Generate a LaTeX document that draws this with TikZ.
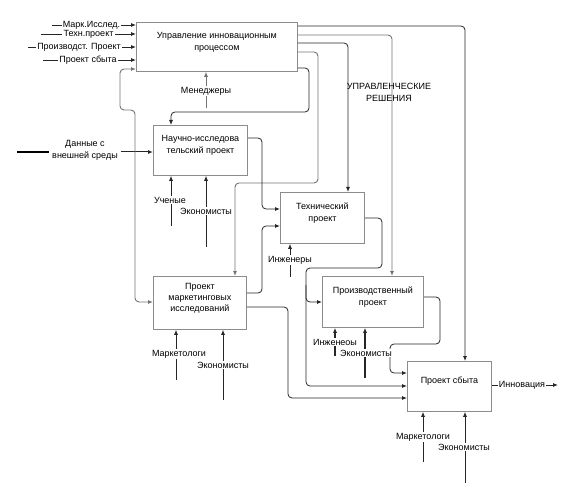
\documentclass[tikz,border=0pt]{standalone}
\usepackage{fontspec}
\setmainfont{Liberation Sans}
\usetikzlibrary{arrows.meta}
\begin{document}
\begin{tikzpicture}[x=1pt,y=-1pt,
  font=\fontsize{9}{12}\selectfont,
  box/.style={draw=black!45,line width=0.8pt,fill=white,inner sep=0pt,anchor=north west},
  txt/.style={align=center,inner sep=0pt},
  lbl/.style={fill=white,inner sep=1.2pt,align=center},
  ln/.style={draw=black!85,line width=0.8pt,rounded corners=4pt},
  gln/.style={draw=black!55,line width=0.9pt,rounded corners=4pt},
  arr/.style={-{Latex[length=5pt,width=4pt]}},
]
\useasboundingbox (0,0) rectangle (575,494);
% boxes
\node[box,minimum width=161pt,minimum height=49pt] (U) at (136,22) {};
\node[box,minimum width=94pt,minimum height=50pt] (N) at (153,125) {};
\node[box,minimum width=84pt,minimum height=51pt] (T) at (280,192) {};
\node[box,minimum width=93pt,minimum height=53pt] (M) at (153,276) {};
\node[box,minimum width=101pt,minimum height=51pt] (P) at (322,276) {};
\node[box,minimum width=84pt,minimum height=50pt] (S) at (407,361) {};
\node[txt] (Ut) at ([yshift=5pt]U.center) {Управление инновационным\\процессом};
\node[txt] (Nt) at ([yshift=5pt]N.center) {Научно-исследова\\тельский проект};
\node[txt] (Tt) at ([yshift=5pt]T.center) {Технический\\проект};
\node[txt,font=\fontsize{9}{11}\selectfont] (Mt) at ([yshift=5pt]M.center) {Проект\\маркетинговых\\исследований};
\node[txt] (Pt) at ([yshift=5pt]P.center) {Производственный\\проект};
\node[txt] (St) at ([yshift=5pt]S.center) {Проект сбыта};

% inputs to U
\draw[ln,arr] (52,25) -- (U.west |- 0,25);
\node[lbl] (i1) at (91.5,25) {Марк.Исслед.};
\draw[ln,arr] (41,34) -- (U.west |- 0,34);
\node[lbl] (i2) at (88.5,34) {Техн.проект};
\draw[ln,arr] (28,47) -- (U.west |- 0,47);
\node[lbl] (i3) at (79,47) {Производст. Проект};
\draw[ln,arr] (43,60) -- (U.west |- 0,60);
\node[lbl] (i4) at (88,60) {Проект сбыта};

% external data
\draw[draw=black,line width=1.3pt] (17,152) -- (60,152);
\draw[ln,arr,line width=1pt] (60,152) -- (N.west |- 0,152);
\node[lbl,inner sep=3pt] (ext) at (85,150) {Данные с\\внешней среды};

% loop U <-> M on left
\draw[gln,{Latex[length=5pt,width=4pt]}-{Latex[length=5pt,width=4pt]}] (U.west |- 0,69) -- (120,69) -- (120,110) -- (135,110) -- (135,302) -- (M.west |- 0,302);

% control lines from U
\draw[ln,arr] (U.east |- 0,26) -- (465,26) -- (465,200) -- (S.north -| 465,0);
\draw[gln,arr] (U.east |- 0,35) -- (392,35) -- (392,200) -- (P.north -| 392,0);
\draw[ln,arr] (U.east |- 0,43) -- (348,43) -- (348,150) -- (T.north -| 348,0);
\draw[gln,arr] (U.east |- 0,52) -- (318,52) -- (318,183) -- (235,183) -- (M.north -| 235,0);
\draw[ln,arr] (U.east |- 0,68) -- (309,68) -- (309,112) -- (171,112) -- (N.north -| 171,0);
\node[txt] (dec) at (389,92.5) {УПРАВЛЕНЧЕСКИЕ\\РЕШЕНИЯ};

% N -> T, M -> T
\draw[ln,arr] (N.east |- 0,138) -- (262,138) -- (262,209) -- (T.west |- 0,209);
\draw[ln,arr] (M.east |- 0,293) -- (262,293) -- (262,226) -- (T.west |- 0,226);
% M -> S
\draw[ln,arr] (M.east |- 0,307) -- (288,307) -- (288,398) -- (S.west |- 0,398);
% T -> P and S
\draw[ln,arr] (T.east |- 0,218) -- (382,218) -- (382,268) -- (306,268) -- (306,386) -- (S.west |- 0,386);
\draw[ln,arr] (306,285) -- (306,302) -- (P.west |- 0,302);
% P -> S
\draw[ln,arr] (P.east |- 0,297) -- (440,297) -- (440,344) -- (390,344) -- (390,373) -- (S.west |- 0,373);
% output
\draw[ln,arr] (S.east |- 0,385) -- (558,385);
\node[lbl] (out) at (522,385) {Инновация};

% mechanisms
\draw[gln,arr] (206,108) -- (U.south -| 206,0);
\node[lbl] (m1) at (206,91) {Менеджеры};
\draw[ln,arr] (171,226) -- (N.south -| 171,0);
\node[lbl] (m2) at (170,200) {Ученые};
\draw[ln,arr] (206,247) -- (N.south -| 206,0);
\node[lbl] (m3) at (206,211) {Экономисты};
\draw[ln,arr] (290,277) -- (T.south -| 290,0);
\node[lbl] (m4) at (290,260) {Инженеры};
\draw[ln,arr] (176,380) -- (M.south -| 176,0);
\node[lbl] (m5) at (179,354) {Маркетологи};
\draw[ln,arr] (223,400) -- (M.south -| 223,0);
\node[lbl] (m6) at (223,365) {Экономисты};
\draw[ln,arr,line width=1.3pt] (335,356) -- (P.south -| 335,0);
\node[lbl] (m7) at (335,342) {Инженеоы};
\draw[ln,arr,line width=1.5pt] (365,378) -- (P.south -| 365,0);
\node[lbl] (m8) at (366,353) {Экономисты};
\draw[ln,arr] (423,462) -- (S.south -| 423,0);
\node[lbl] (m9) at (423,437) {Маркетологи};
\draw[ln,arr] (465,483) -- (S.south -| 465,0);
\node[lbl] (m10) at (464,447) {Экономисты};
\end{tikzpicture}
\end{document}
